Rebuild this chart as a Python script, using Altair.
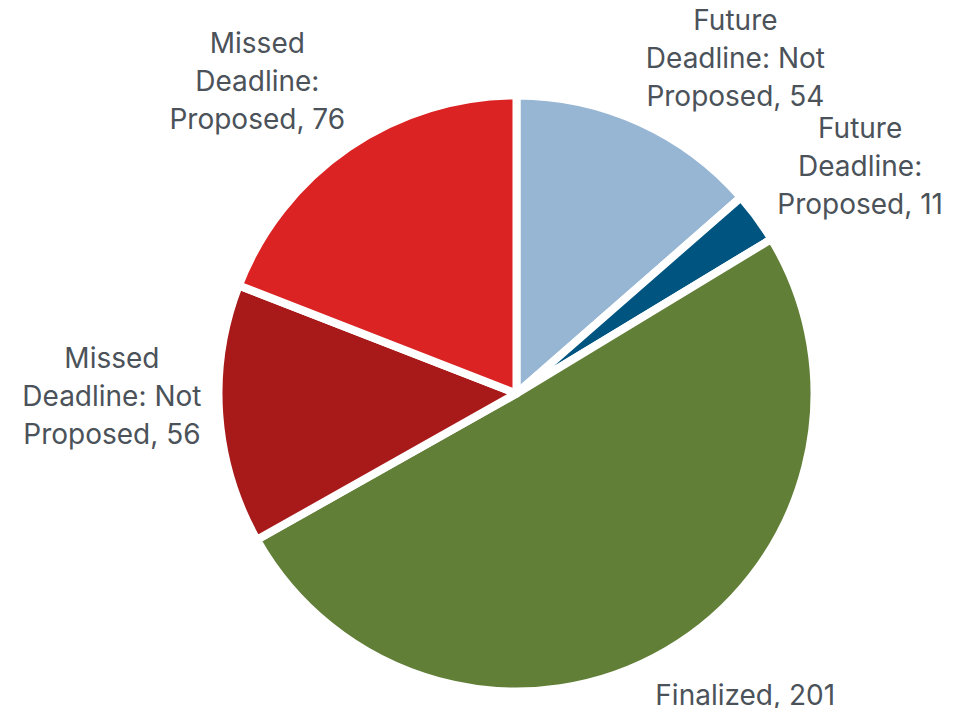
import math
import altair as alt
import pandas as pd

# ---- data ----
categories = [
    "Future Deadline: Not Proposed",
    "Future Deadline: Proposed",
    "Finalized",
    "Missed Deadline: Not Proposed",
    "Missed Deadline: Proposed",
]
counts = [54, 11, 201, 56, 76]
labels = [
    "Future\nDeadline: Not\nProposed, 54",
    "Future\nDeadline:\nProposed, 11",
    "Finalized, 201",
    "Missed\nDeadline: Not\nProposed, 56",
    "Missed\nDeadline:\nProposed, 76",
]

# ---- style ----
colors = ["#97B6D3", "#005580", "#627F38", "#A8191A", "#DC2323"]
label_shift_deg = [6.1, -1.3, -6.7, 8.8, -2.3]   # angular nudge of first label line from slice mid-angle
label_dist = [431, 433, 380, 406, 434]           # distance of first label line from pie centre
CX, CY = 508.5, 385.5
R = 298
TEXT_COLOR = "#4B5259"

df = pd.DataFrame({
    "idx": list(range(len(categories))),
    "cat": categories,
    "count": counts,
    "label": labels,
    "shift": label_shift_deg,
    "dist": label_dist,
})

base = alt.Chart(df)

pie = base.mark_arc(
    x=CX, y=CY, outerRadius=R, stroke="white", strokeWidth=8, strokeJoin="round"
).encode(
    theta=alt.Theta("count:Q", stack=True),
    color=alt.Color("cat:N", scale=alt.Scale(domain=categories, range=colors), legend=None),
    order=alt.Order("idx:Q"),
)

text = base.transform_joinaggregate(
    total="sum(count)"
).transform_window(
    cum="sum(count)", sort=[alt.SortField("idx")]
).transform_calculate(
    ang="(datum.cum - datum.count / 2) / datum.total * 360 + datum.shift"
).mark_text(
    x=CX, y=CY, font="Inter", fontSize=28, lineHeight=38,
    color=TEXT_COLOR, align="center", baseline="middle", lineBreak="\n",
).encode(
    theta=alt.Theta("ang:Q", scale=alt.Scale(domain=[0, 360], range=[0, 2 * math.pi])),
    radius=alt.Radius("dist:Q", scale=None),
    text="label:N",
)

chart = alt.layer(pie, text).resolve_scale(theta="independent").properties(
    width=958, height=700, autosize="none", padding=0
).configure_view(stroke=None)

chart.save("out.html", embed_options={"renderer": "svg", "actions": False})
